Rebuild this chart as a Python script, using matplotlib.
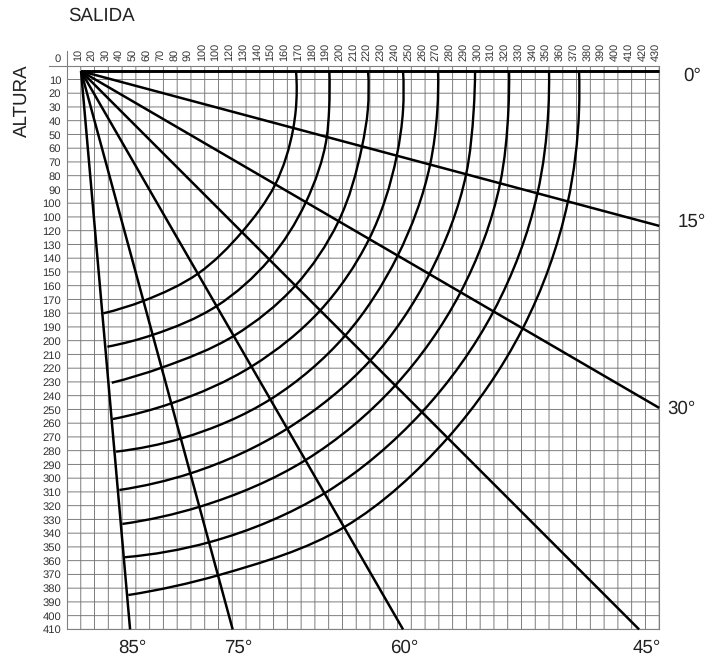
import numpy as np
import matplotlib
matplotlib.use('Agg')
import matplotlib.pyplot as plt
from matplotlib.path import Path
from matplotlib.patches import PathPatch
from matplotlib.transforms import ScaledTranslation

plt.rcParams['font.family'] = ['Liberation Sans', 'DejaVu Sans']
plt.rcParams['text.hinting'] = 'none'

# etiquetas de los ejes (tal como aparecen, con el 100 repetido)
salida_ticks = list(range(10, 440, 10))
salida_labels = [str(v) for v in salida_ticks]
salida_labels[10] = '100'
altura_ticks = list(range(0, 420, 10))
altura_labels = [str(v) for v in altura_ticks]
altura_labels[11] = '100'

# rectas de angulo: origen comun y punto final
origen = (10.2, 4)
angulos = ['0°', '15°', '30°', '45°', '60°', '75°', '85°']
fin_x = [430, 430, 430, 415.4, 244, 120.3, 45.8]
fin_y = [4, 116.5, 248.9, 410, 410, 410, 410]

# curvas de alcance, de dentro hacia fuera
curva1_x = [166.3, 166.1, 164.3, 151, 127.1, 95.4, 55.4, 26.4]
curva1_y = [4, 32.2, 45.5, 86.8, 120.9, 151, 171.1, 180.1]
curva2_x = [190.5, 190.3, 188.6, 173.3, 146.7, 108.7, 61.9, 29.3]
curva2_y = [4, 32.2, 52.1, 99.6, 141.3, 174.8, 195.9, 204.4]
curva3_x = [218.6, 218.4, 214.2, 197, 165.6, 121.3, 68.8, 32.5]
curva3_y = [4, 32.2, 58.9, 113.5, 160.2, 196.4, 219.6, 230.6]
curva4_x = [244, 244, 239.4, 219.2, 183.7, 134.6, 76, 33.2]
curva4_y = [4, 32.2, 65.7, 126.4, 178.2, 218.4, 245.5, 257]
curva5_x = [269.4, 268.9, 263.6, 240, 201.9, 148.1, 83.3, 35.6]
curva5_y = [4, 32.2, 72.2, 138.4, 196.4, 242.4, 271, 280.7]
curva6_x = [296.3, 295.3, 289.8, 263.1, 220, 160.7, 90, 38]
curva6_y = [4, 32.2, 79, 151.7, 214.6, 263.5, 296.4, 308.6]
curva7_x = [321, 320.5, 314.4, 285.4, 238.2, 173.3, 96.6, 40.2]
curva7_y = [4, 32.2, 86, 165.5, 232.7, 286.8, 320.7, 333.3]
curva8_x = [350, 349.5, 341.5, 309.6, 257.6, 188.1, 103.3, 42.1]
curva8_y = [4, 32.2, 93.3, 178.9, 252.1, 310.3, 346.6, 357.5]
curva9_x = [371.8, 371.8, 363.6, 330.6, 276.2, 201.5, 110.6, 44.5]
curva9_y = [4, 32.2, 99.3, 191.7, 271, 335.5, 370.4, 385]

curvas = [(curva1_x, curva1_y), (curva2_x, curva2_y), (curva3_x, curva3_y),
          (curva4_x, curva4_y), (curva5_x, curva5_y), (curva6_x, curva6_y),
          (curva7_x, curva7_y), (curva8_x, curva8_y), (curva9_x, curva9_y)]


# trazo suave que pasa por los puntos leidos (tangente de Bessel en cada punto)
def smooth_path(xs, ys):
    p = np.column_stack([xs, ys])
    d = np.diff(p, axis=0)
    n = np.linalg.norm(d, axis=1)
    u = d / n[:, None]
    t = np.zeros_like(p)
    for i in range(1, len(p) - 1):
        t[i] = (n[i] * u[i - 1] + n[i - 1] * u[i]) / (n[i - 1] + n[i])
    t[0] = 2 * u[0] - t[1]
    t[-1] = 2 * u[-1] - t[-2]
    verts = [p[0]]
    codes = [Path.MOVETO]
    for i in range(len(p) - 1):
        verts += [p[i] + t[i] * n[i] / 3, p[i + 1] - t[i + 1] * n[i] / 3, p[i + 1]]
        codes += [Path.CURVE4] * 3
    return Path(verts, codes)


W, H = 714, 660
fig = plt.figure(figsize=(W / 100, H / 100), dpi=100)
ax = fig.add_axes([67 / W, 1 - 629.4 / H, 592.2 / W, 563.7 / H])
ax.set_xlim(0, 430)
ax.set_ylim(410, 0)

# rejilla
ax.xaxis.tick_top()
ax.set_xticks(salida_ticks)
ax.set_xticklabels(salida_labels, rotation=90, fontsize=7.8, color='#333333')
ax.set_yticks(altura_ticks)
ax.set_yticklabels(altura_labels, fontsize=8.1, color='#333333')
ax.tick_params(length=0)
ax.tick_params(axis='x', pad=3.6)
ax.tick_params(axis='y', pad=4.2)
ax.grid(True, color='#737373', lw=0.65, snap=False)
ax.set_axisbelow(True)
for s in ax.spines.values():
    s.set_color('#808080')
    s.set_linewidth(0.8)

# las etiquetas van un poco a la izquierda de su linea
for lab in ax.get_xticklabels():
    lab.set_transform(lab.get_transform() + ScaledTranslation(-3 / 100, 0, fig.dpi_scale_trans))
lab0 = ax.get_yticklabels()[0]
lab0.set_transform(lab0.get_transform() + ScaledTranslation(0, 8 / 100, fig.dpi_scale_trans))

# prolongacion de los ejes fuera de la rejilla
ax.plot([0, 0], [-10.5, 0], color='#808080', lw=0.8, clip_on=False)
ax.plot([-13, 0], [0, 0], color='#808080', lw=0.8, clip_on=False)

# la recta de 0 grados es algo mas gruesa
for i, (xe, ye) in enumerate(zip(fin_x, fin_y)):
    ax.plot([origen[0], xe], [origen[1], ye], color='black', lw=2.1 if i == 0 else 1.8,
            solid_capstyle='butt', clip_on=False, zorder=3)

for xs, ys in curvas:
    ax.add_patch(PathPatch(smooth_path(xs, ys), fill=False, edgecolor='black',
                           lw=1.7, capstyle='butt', zorder=3))

fig.text(68 / W, 1 - 16 / H, 'SALIDA', fontsize=13.5, va='center', ha='left', color='#222222')
fig.text(22 / W, 1 - 101 / H, 'ALTURA', fontsize=13.5, rotation=90, va='center', ha='center', color='#222222')

etiq_x = [692, 692, 681, 647, 404, 238, 132]
etiq_y = [76, 222, 409, 648, 648, 648, 648]
for txt, px, py in zip(angulos, etiq_x, etiq_y):
    fig.text(px / W, 1 - py / H, txt, fontsize=13.5, va='center', ha='center', color='#222222')

fig.savefig('out.png', dpi=100)
